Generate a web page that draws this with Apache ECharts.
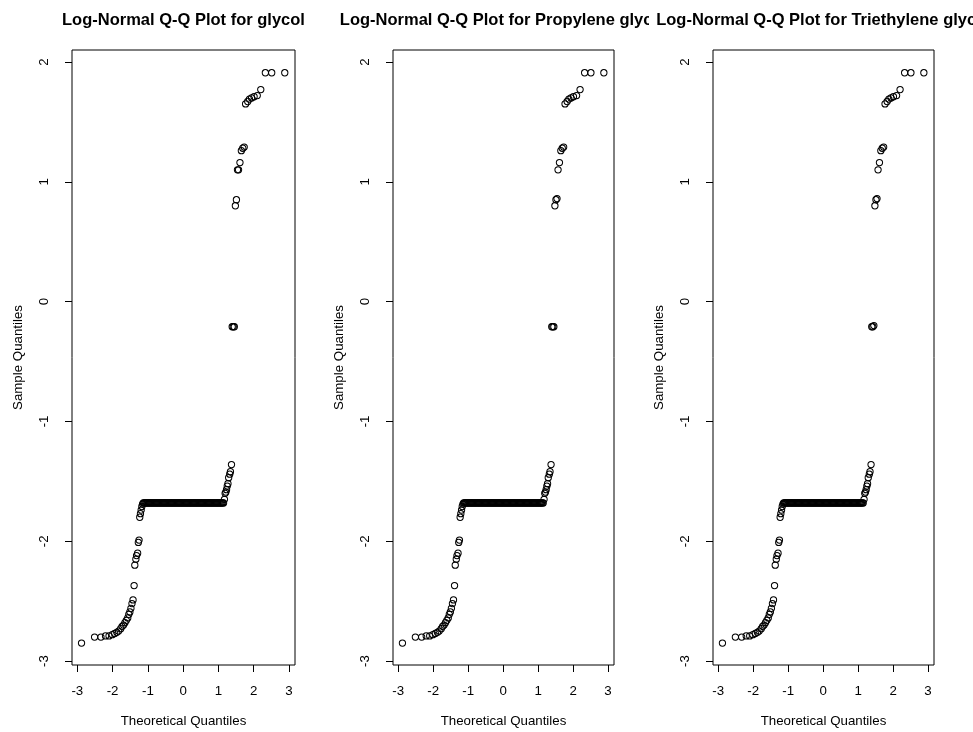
<!DOCTYPE html>
<html>
<head>
<meta charset="utf-8">
<script src="https://cdn.jsdelivr.net/npm/echarts@6/dist/echarts.min.js"></script>
<style>
html,body{margin:0;padding:0;background:#fff;}
#chart{width:973px;height:732px;}
</style>
</head>
<body>
<div id="chart"></div>
<script>
// Titles
const panelTitles = [
  "Log-Normal Q-Q Plot for glycol",
  "Log-Normal Q-Q Plot for Propylene glycol",
  "Log-Normal Q-Q Plot for Triethylene glycol"
];
const xTicks = [-3, -2, -1, 0, 1, 2, 3];
const yTicks = [-3, -2, -1, 0, 1, 2];

// Theoretical quantiles (x) of the lower tail points
const lowTailX = [-2.88,-2.51,-2.33,-2.20,-2.10,-2.01,-1.94,-1.88,-1.83,-1.77,-1.73,-1.69,-1.65,-1.61,-1.57,-1.54,
  -1.51,-1.48,-1.45,-1.42,-1.39,-1.37,-1.34,-1.32,-1.29,-1.27,-1.25,-1.23,-1.21,-1.19,-1.17,-1.15];
// Theoretical quantiles (x) of the dense tied run
const flatX = [-1.13,-1.105,-1.08,-1.055,-1.03,-1.005,-0.98,-0.955,-0.93,-0.905,-0.88,-0.855,-0.83,-0.805,-0.78,-0.755,
  -0.73,-0.705,-0.68,-0.655,-0.63,-0.605,-0.58,-0.555,-0.53,-0.505,-0.48,-0.455,-0.43,-0.405,-0.38,-0.355,-0.33,-0.305,
  -0.28,-0.255,-0.23,-0.205,-0.18,-0.155,-0.13,-0.105,-0.08,-0.055,-0.03,-0.005,0.02,0.045,0.07,0.095,0.12,0.145,0.17,
  0.195,0.22,0.245,0.27,0.295,0.32,0.345,0.37,0.395,0.42,0.445,0.47,0.495,0.52,0.545,0.57,0.595,0.62,0.645,0.67,0.695,
  0.72,0.745,0.77,0.795,0.82,0.845,0.87,0.895,0.92,0.945,0.97,0.995,1.02,1.045,1.07,1.095,1.12,1.145];
// Theoretical quantiles (x) of the upper tail points
const highTailX = [1.17,1.19,1.21,1.23,1.25,1.27,1.29,1.32,1.34,1.37,1.39,1.42,1.45,1.48,1.51,1.54,1.57,1.61,1.65,
  1.69,1.73,1.77,1.83,1.88,1.94,2.01,2.10,2.20,2.33,2.51,2.88];

// Sample quantiles (y) per panel
const glycolLow = [-2.85,-2.80,-2.80,-2.79,-2.79,-2.78,-2.77,-2.76,-2.75,-2.73,-2.71,-2.70,-2.68,-2.66,-2.64,-2.61,
  -2.59,-2.56,-2.52,-2.49,-2.37,-2.20,-2.15,-2.12,-2.10,-2.01,-1.99,-1.80,-1.77,-1.74,-1.71,-1.69];
const glycolFlat = -1.68;
const glycolHigh = [-1.65,-1.60,-1.59,-1.57,-1.54,-1.52,-1.47,-1.44,-1.42,-1.36,-0.21,-0.21,-0.21,0.80,0.85,1.10,
  1.10,1.16,1.26,1.28,1.29,1.65,1.67,1.69,1.70,1.71,1.72,1.77,1.91,1.91,1.91];

const propyleneLow = [-2.85,-2.80,-2.80,-2.79,-2.79,-2.78,-2.77,-2.76,-2.75,-2.73,-2.71,-2.70,-2.68,-2.66,-2.64,-2.61,
  -2.59,-2.56,-2.52,-2.49,-2.37,-2.20,-2.15,-2.12,-2.10,-2.01,-1.99,-1.80,-1.77,-1.74,-1.71,-1.69];
const propyleneFlat = -1.68;
const propyleneHigh = [-1.65,-1.60,-1.59,-1.57,-1.54,-1.52,-1.47,-1.44,-1.42,-1.36,-0.21,-0.21,-0.21,0.80,0.85,0.86,
  1.10,1.16,1.26,1.28,1.29,1.65,1.67,1.69,1.70,1.71,1.72,1.77,1.91,1.91,1.91];

const triethyleneLow = [-2.85,-2.80,-2.80,-2.79,-2.79,-2.78,-2.77,-2.76,-2.75,-2.73,-2.71,-2.70,-2.68,-2.66,-2.64,-2.61,
  -2.59,-2.56,-2.52,-2.49,-2.37,-2.20,-2.15,-2.12,-2.10,-2.01,-1.99,-1.80,-1.77,-1.74,-1.71,-1.69];
const triethyleneFlat = -1.68;
const triethyleneHigh = [-1.65,-1.60,-1.59,-1.57,-1.54,-1.52,-1.47,-1.44,-1.42,-1.36,-0.21,-0.21,-0.20,0.80,0.85,0.86,
  1.10,1.16,1.26,1.28,1.29,1.65,1.67,1.69,1.70,1.71,1.72,1.77,1.91,1.91,1.91];

function buildPoints(low, flat, high) {
  const pts = [];
  lowTailX.forEach((x, i) => pts.push([x, low[i]]));
  flatX.forEach(x => pts.push([x, flat]));
  highTailX.forEach((x, i) => pts.push([x, high[i]]));
  return pts;
}
const panelData = [
  buildPoints(glycolLow, glycolFlat, glycolHigh),
  buildPoints(propyleneLow, propyleneFlat, propyleneHigh),
  buildPoints(triethyleneLow, triethyleneFlat, triethyleneHigh)
];

const FONT = '"Liberation Sans", Arial, sans-serif';
const grids = [
  {left: 72, top: 50, width: 223, height: 615},
  {left: 393, top: 50, width: 221, height: 615},
  {left: 713, top: 50, width: 221, height: 615}
];

const option = {
  backgroundColor: '#fff',
  animation: false,
  grid: grids.map(g => Object.assign({show: true, borderColor: '#000', borderWidth: 1, backgroundColor: 'transparent',
    containLabel: false, outerBoundsMode: 'none'}, g)),
  xAxis: grids.map((g, i) => ({
    type: 'value', gridIndex: i, min: -3.15, max: 3.17, position: 'bottom',
    axisLine: {show: false, onZero: false},
    axisTick: {show: true, length: 7, customValues: xTicks, lineStyle: {color: '#000', width: 1}},
    axisLabel: {customValues: xTicks, margin: 20, fontSize: 13.3, color: '#000', fontFamily: FONT},
    splitLine: {show: false},
    name: 'Theoretical Quantiles', nameLocation: 'middle', nameGap: 50,
    nameTextStyle: {fontSize: 13.3, color: '#000', fontFamily: FONT}
  })),
  yAxis: grids.map((g, i) => ({
    type: 'value', gridIndex: i, min: -3.033, max: 2.10, position: 'left',
    axisLine: {show: false, onZero: false},
    axisTick: {show: true, length: 7, customValues: yTicks, lineStyle: {color: '#000', width: 1}},
    axisLabel: {customValues: yTicks, rotate: 90, margin: 21, fontSize: 13.3, color: '#000', fontFamily: FONT},
    splitLine: {show: false},
    name: 'Sample Quantiles', nameLocation: 'middle', nameGap: 47,
    nameTextStyle: {fontSize: 13.3, color: '#000', fontFamily: FONT}
  })),
  graphic: [
    {type: 'text', x: 183.5, y: 20, z: 10, style: {text: panelTitles[0], align: 'center', verticalAlign: 'middle', font: 'bold 16.5px ' + FONT, fill: '#000'}},
    {type: 'text', x: 503.5, y: 20, z: 10, style: {text: panelTitles[1], align: 'center', verticalAlign: 'middle', font: 'bold 16.5px ' + FONT, fill: '#000'}},
    {type: 'rect', z: 20, shape: {x: 649, y: 0, width: 324, height: 40}, style: {fill: '#fff'}},
    {type: 'text', x: 823.5, y: 20, z: 30, style: {text: panelTitles[2], align: 'center', verticalAlign: 'middle', font: 'bold 16.5px ' + FONT, fill: '#000'}}
  ],
  series: panelData.map((d, i) => ({
    type: 'scatter', xAxisIndex: i, yAxisIndex: i,
    symbol: 'circle', symbolSize: 6.3,
    itemStyle: {color: 'rgba(0,0,0,0)', borderColor: '#000', borderWidth: 1, opacity: 1},
    emphasis: {disabled: true},
    data: d
  }))
};

const chart = echarts.init(document.getElementById('chart'), null, {renderer: 'canvas'});
chart.setOption(option);
</script>
</body>
</html>
